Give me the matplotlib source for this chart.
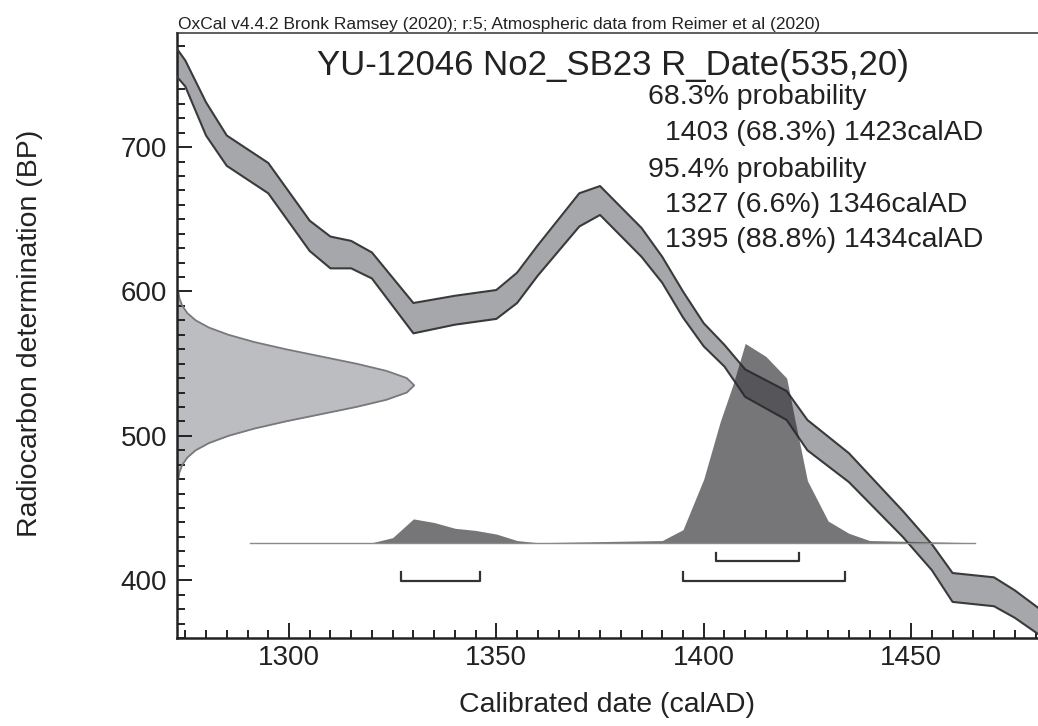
import numpy as np
import matplotlib
matplotlib.use('Agg')
import matplotlib.pyplot as plt
from matplotlib.ticker import MultipleLocator

plt.rcParams['font.family'] = ['Liberation Sans', 'DejaVu Sans']

# calibration curve (IntCal20 band, upper / lower edge in BP)
cal_year = [1272, 1275, 1280, 1285, 1295, 1305, 1310, 1315, 1320, 1330, 1340, 1350, 1355, 1360,
            1370, 1375, 1385, 1390, 1395, 1400, 1405, 1410, 1420, 1425, 1435, 1448, 1455, 1460,
            1470, 1475, 1482]
cal_upper = [772, 760, 731, 708, 689, 649, 638, 635, 627, 592, 597, 601, 613, 632,
             668, 673, 644, 624, 600, 578, 563, 546, 531, 511, 488, 448, 425, 405,
             402, 393, 378]
cal_lower = [752, 742, 708, 687, 668, 628, 616, 616, 609, 571, 577, 581, 592, 611,
             645, 653, 624, 606, 582, 562, 548, 527, 511, 490, 468, 430, 407, 385,
             382, 374, 360]

# radiocarbon measurement R_Date(535,20), drawn from the y axis (width in years)
gauss_bp = [600, 595, 590, 585, 580, 575, 570, 565, 560, 555, 550, 545, 540, 535,
            530, 525, 520, 515, 510, 505, 500, 495, 490, 485, 480, 475, 470]
gauss_w = [0.3, 0.6, 1.3, 2.5, 4.5, 7.7, 12.4, 18.6, 26.2, 34.7, 43.2, 50.5, 55.4, 57.2,
           55.4, 50.5, 43.2, 34.7, 26.2, 18.6, 12.4, 7.7, 4.5, 2.5, 1.3, 0.6, 0.3]

# calibrated distribution, drawn above a baseline at 426 BP
post_base = 426
post_year = [1290.5, 1320, 1325, 1330, 1335, 1340, 1345, 1350, 1355, 1360, 1390, 1395, 1400,
             1404, 1407, 1410, 1415, 1420, 1422, 1425, 1430, 1435, 1440, 1465.4]
post_top = [426, 426, 429.5, 442.5, 440, 436, 434.5, 432, 427.5, 426, 427.5, 435, 470,
            510, 535, 564, 555, 540, 511, 469, 441, 432.5, 427.5, 426]

# highest probability ranges
hpd68 = [(1403, 1423, 68.3)]
hpd95 = [(1327, 1346, 6.6), (1395, 1434, 88.8)]

xmin, xmax = 1273, 1480.6
ymin, ymax = 360, 779

fig = plt.figure(figsize=(10.38, 7.26), dpi=100)
ax = fig.add_axes([177 / 1038, 88 / 726, 861 / 1038, 605 / 726])

# measurement curve on the y axis
gx = xmin + np.array(gauss_w)
ax.fill_betweenx(gauss_bp, xmin, gx, color='#bcbdc1', lw=0, zorder=1)
ax.plot(gx, gauss_bp, color='#78787d', lw=1.3, zorder=2)

# calibration band
ax.fill_between(cal_year, cal_lower, cal_upper, color='#a6a7ab', lw=0, zorder=2)
ax.plot(cal_year, cal_upper, color='#3a3a3a', lw=1.5, zorder=3)
ax.plot(cal_year, cal_lower, color='#3a3a3a', lw=1.5, zorder=3)

# calibrated distribution
ax.fill_between(post_year, post_base, post_top, color='#29292d', alpha=0.64, lw=0, zorder=4)
ax.plot([post_year[0], post_year[-1]], [post_base, post_base], color='#8a8a8a', lw=1.0, zorder=5)

# range brackets
for lo, hi, p in hpd68:
    ax.plot([lo, lo, hi, hi], [419, 413, 413, 419], color='#333333', lw=1.6, zorder=5)
for lo, hi, p in hpd95:
    ax.plot([lo, lo, hi, hi], [406, 399.5, 399.5, 406], color='#333333', lw=1.6, zorder=5)

ax.set_xlim(xmin, xmax)
ax.set_ylim(ymin, ymax)
ax.xaxis.set_major_locator(MultipleLocator(50))
ax.xaxis.set_minor_locator(MultipleLocator(5))
ax.yaxis.set_major_locator(MultipleLocator(100))
ax.yaxis.set_minor_locator(MultipleLocator(10))
ax.tick_params(which='both', direction='in', width=1.4, color='#222222', labelsize=20,
               labelcolor='#222222', top=False, right=False)
ax.tick_params(which='major', length=10.5)
ax.tick_params(which='minor', length=5.5)
ax.tick_params(axis='x', pad=5)
ax.tick_params(axis='y', pad=7)
for s in ['left', 'bottom']:
    ax.spines[s].set_linewidth(1.8)
    ax.spines[s].set_color('#222222')
ax.spines['top'].set_linewidth(1.1)
ax.spines['top'].set_color('#333333')
ax.spines['right'].set_visible(False)

# texts
fig.text(178 / 1038, 1 - 29 / 726,
         'OxCal v4.4.2 Bronk Ramsey (2020); r:5; Atmospheric data from Reimer et al (2020)',
         fontsize=12.5, color='#222222', ha='left', va='baseline')
fig.text(613 / 1038, 1 - 75 / 726, 'YU-12046 No2_SB23 R_Date(535,20)',
         fontsize=25, color='#222222', ha='center', va='baseline')

lines = [('68.3% probability', 648)]
for lo, hi, p in hpd68:
    lines.append((f'{lo} ({p}%) {hi}calAD', 665))
lines.append(('95.4% probability', 648))
for lo, hi, p in hpd95:
    lines.append((f'{lo} ({p}%) {hi}calAD', 665))
baselines = [104, 140, 177, 212, 247]
for (txt, xp), yb in zip(lines, baselines):
    fig.text(xp / 1038, 1 - yb / 726, txt, fontsize=20.5, color='#222222',
             ha='left', va='baseline')

fig.text(30 / 1038, 1 - 333 / 726, 'Radiocarbon determination (BP)', fontsize=20.5,
         color='#222222', rotation=90, ha='center', va='center')
fig.text(607 / 1038, 1 - 705 / 726, 'Calibrated date (calAD)', fontsize=20.5,
         color='#222222', ha='center', va='center')

fig.savefig('out.png', dpi=100)
